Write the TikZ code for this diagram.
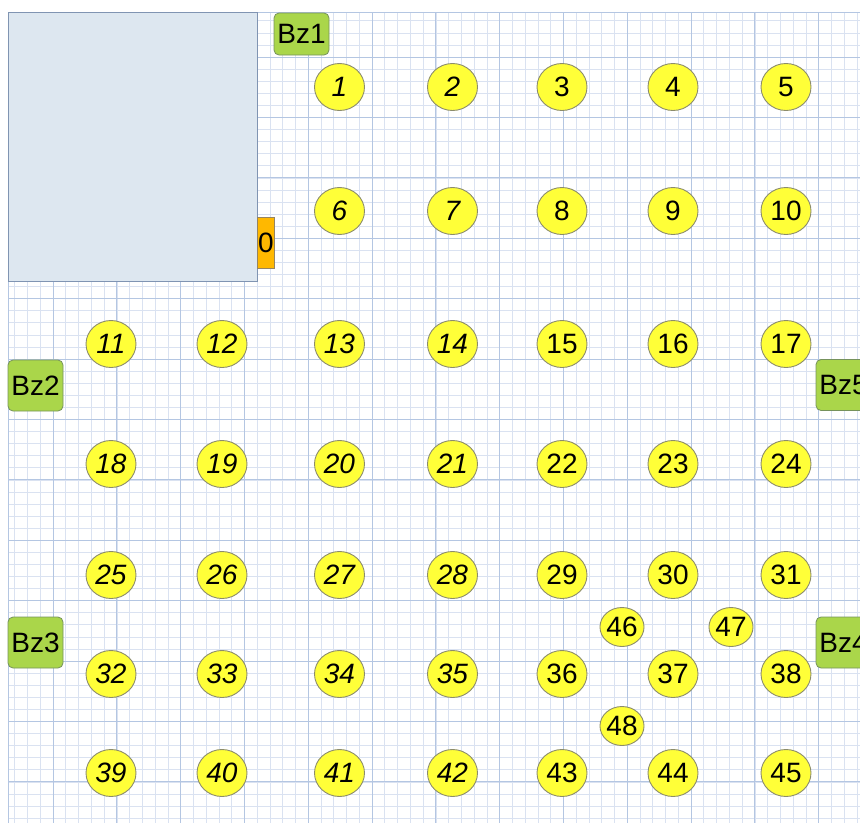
\documentclass[tikz,border=0pt]{standalone}
\usepackage{fontspec}
\setmainfont{Liberation Sans}
\usetikzlibrary{shapes.geometric, positioning}
\definecolor{gridminor}{RGB}{218,226,241}
\definecolor{gridmajor}{RGB}{180,198,226}
\definecolor{hallfill}{RGB}{221,231,240}
\definecolor{halledge}{RGB}{128,148,178}
\definecolor{spotfill}{RGB}{255,255,56}
\definecolor{spotedge}{RGB}{140,140,108}
\definecolor{bzfill}{RGB}{170,214,74}
\definecolor{bzedge}{RGB}{118,146,92}
\definecolor{doorfill}{RGB}{255,184,0}
\definecolor{dooredge}{RGB}{150,132,96}
\tikzset{
  spot/.style={ellipse, draw=spotedge, fill=spotfill, minimum width=50pt,
    minimum height=47pt, inner sep=0pt, line width=0.9pt,
    font=\fontsize{28}{30}\selectfont},
  italspot/.style={spot, font=\fontsize{28}{30}\selectfont\itshape},
  smallspot/.style={spot, minimum width=44pt, minimum height=39pt},
  bzbox/.style={rectangle, draw=bzedge, fill=bzfill, rounded corners=5pt,
    minimum width=55pt, minimum height=51pt, inner sep=0pt, line width=0.8pt,
    font=\fontsize{28}{30}\selectfont},
  minorline/.style={gridminor, line width=0.6pt},
  majorline/.style={gridmajor, line width=0.9pt}
}
\begin{document}
\begin{tikzpicture}[x=1pt, y=-1pt]
  \useasboundingbox (0,0) rectangle (860,825);

  % Grid paper
  \begin{scope}
    \clip (8,12) rectangle (860,823);
    \foreach \i in {-3,...,63} \draw[minorline] ({53+12.76*\i},12) -- ({53+12.76*\i},823);
    \foreach \j in {-3,...,64} \draw[minorline] (8,{57+12.08*\j}) -- (860,{57+12.08*\j});
    \foreach \i in {0,...,12} \draw[majorline] ({53+63.8*\i},12) -- ({53+63.8*\i},823);
    \foreach \j in {0,...,12} \draw[majorline] (8,{57+60.4*\j}) -- (860,{57+60.4*\j});
  \end{scope}
  \draw[majorline] (8,823) -- (8,12) -- (860,12);

  % Hall and door
  \node[rectangle, draw=halledge, fill=hallfill, line width=0.8pt, anchor=north west,
    minimum width=249pt, minimum height=269pt] (hall) at (8,12) {};
  \node[rectangle, draw=dooredge, fill=doorfill, line width=0.6pt, inner sep=0pt,
    minimum width=17pt, minimum height=51pt, anchor=south west,
    font=\fontsize{28}{30}\selectfont] (door) at (257,269) {0};

  % Boxes
  \node[bzbox, minimum height=42pt] (bz1) at (301.5,34) {Bz1};
  \node[bzbox] (bz2) at (35.5,385.5) {Bz2};
  \node[bzbox] (bz3) at (35.5,642.5) {Bz3};
  \node[bzbox] (bz4) at (843.5,642.5) {Bz4};
  \node[bzbox] (bz5) at (843.5,385) {Bz5};

  % Upper block
  \foreach \n/\x/\s in {1/339.5/italspot, 2/452.5/italspot, 3/562/spot, 4/673/spot, 5/786/spot}
    \node[\s] (n\n) at (\x,87) {\n};
  \foreach \n/\x/\s in {6/339.5/italspot, 7/452.5/italspot, 8/562/spot, 9/673/spot, 10/786/spot}
    \node[\s] (n\n) at (\x,211) {\n};

  % Lower block
  \foreach \y/\a in {344/11, 464/18, 575/25, 674/32, 773/39} {
    \foreach \x [count=\c from 0] in {111, 222, 339.5, 452.5, 562, 673, 786} {
      \pgfmathtruncatemacro{\n}{\a+\c}
      \ifnum\c<4 \node[italspot] (n\n) at (\x,\y) {\n};
      \else \node[spot] (n\n) at (\x,\y) {\n}; \fi
    }
  }

  % Extra spots
  \node[smallspot] (n46) at (622,627) {46};
  \node[smallspot] (n47) at (731,627) {47};
  \node[smallspot] (n48) at (622,726) {48};
\end{tikzpicture}
\end{document}
